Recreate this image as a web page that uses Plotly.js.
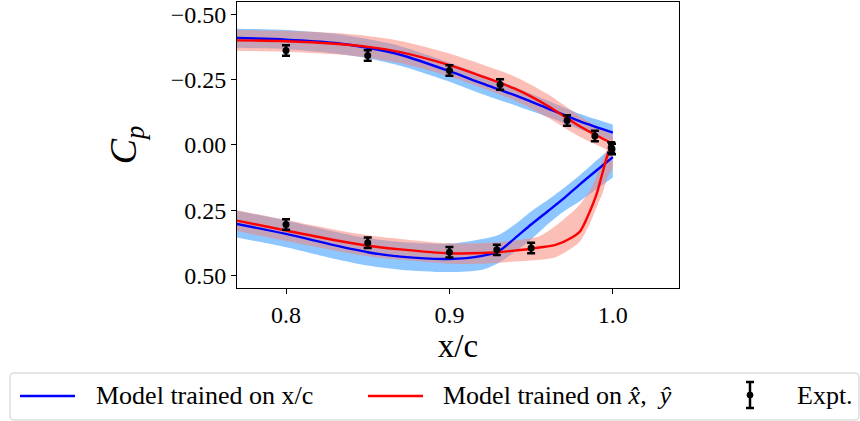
<!DOCTYPE html>
<html>
<head>
<meta charset="utf-8">
<script src="https://cdn.plot.ly/plotly-3.0.1.min.js"></script>
<style>html,body{margin:0;padding:0;background:#fff;}#chart{width:860px;height:421px;}</style>
</head>
<body>
<div id="chart"></div>
<script>
// ---- data ----
// upper surface, model trained on x/c
var bluUpX   = [0.77, 0.80, 0.83, 0.85, 0.87, 0.90, 0.92, 0.94, 0.96, 0.98, 1.00];
var bluUpY   = [-0.409, -0.403, -0.390, -0.372, -0.345, -0.282, -0.235, -0.190, -0.140, -0.090, -0.047];
var bluUpTop = [-0.445, -0.440, -0.425, -0.405, -0.378, -0.315, -0.268, -0.222, -0.170, -0.118, -0.078];
var bluUpBot = [-0.372, -0.366, -0.350, -0.332, -0.303, -0.242, -0.195, -0.152, -0.108, -0.060, -0.015];
// lower surface, model trained on x/c
var bluLoX   = [0.77, 0.80, 0.83, 0.85, 0.87, 0.90, 0.92, 0.93, 0.94, 0.95, 0.96, 0.97, 0.98, 0.99, 1.00];
var bluLoY   = [0.303, 0.341, 0.385, 0.411, 0.428, 0.437, 0.425, 0.408, 0.358, 0.305, 0.255, 0.205, 0.150, 0.098, 0.047];
var bluLoTop = [0.252, 0.290, 0.333, 0.358, 0.372, 0.378, 0.360, 0.345, 0.305, 0.255, 0.212, 0.165, 0.115, 0.060, 0.005];
var bluLoBot = [0.355, 0.392, 0.437, 0.462, 0.478, 0.487, 0.478, 0.452, 0.410, 0.362, 0.305, 0.255, 0.215, 0.170, 0.125];
// upper surface, model trained on x-hat, y-hat
var redUpX   = [0.77, 0.80, 0.83, 0.85, 0.87, 0.90, 0.92, 0.94, 0.96, 0.98, 0.99, 1.00];
var redUpY   = [-0.400, -0.397, -0.387, -0.375, -0.355, -0.305, -0.262, -0.215, -0.150, -0.070, -0.036, -0.005];
var redUpTop = [-0.440, -0.437, -0.428, -0.417, -0.398, -0.350, -0.308, -0.262, -0.195, -0.110, -0.072, -0.038];
var redUpBot = [-0.360, -0.357, -0.347, -0.334, -0.313, -0.262, -0.218, -0.170, -0.105, -0.030, 0.000, 0.030];
// lower surface, model trained on x-hat, y-hat
var redLoX   = [0.77, 0.80, 0.83, 0.85, 0.87, 0.90, 0.92, 0.94, 0.955, 0.965, 0.975, 0.980, 0.986, 0.990, 0.994, 0.997, 1.000];
var redLoY   = [0.290, 0.328, 0.365, 0.386, 0.400, 0.415, 0.414, 0.405, 0.393, 0.383, 0.355, 0.331, 0.254, 0.190, 0.100, 0.035, -0.005];
var redLoTop = [0.250, 0.288, 0.325, 0.346, 0.360, 0.377, 0.376, 0.366, 0.350, 0.310, 0.258, 0.227, 0.175, 0.120, 0.055, 0.010, -0.025];
var redLoBot = [0.330, 0.368, 0.405, 0.426, 0.440, 0.455, 0.455, 0.447, 0.440, 0.430, 0.395, 0.369, 0.300, 0.240, 0.180, 0.120, 0.090];
// experimental data
var expX   = [0.80, 0.85, 0.90, 0.931, 0.972, 0.989, 0.999, 0.80, 0.85, 0.90, 0.929, 0.950, 0.9995];
var expY   = [-0.361, -0.342, -0.285, -0.231, -0.093, -0.034, 0.010, 0.305, 0.375, 0.411, 0.402, 0.395, 0.016];
var expErr = [0.020, 0.020, 0.020, 0.020, 0.020, 0.020, 0.020, 0.020, 0.020, 0.020, 0.020, 0.020, 0.020];
// ticks and labels
var xTicks = [0.8, 0.9, 1.0];
var yTicks = [-0.5, -0.25, 0, 0.25, 0.5];
var legendNames = ["Model trained on x/c", "Model trained on <i>x\u0302</i>,  <i>\u0177</i>", "Expt."];

// ---- styling ----
var BLUE = "#0000ff", RED = "#ff0000";
var BLUE_FILL = "rgba(30,144,255,0.5)", RED_FILL = "rgba(250,128,114,0.5)";
var FONT = "'Liberation Serif', 'Times New Roman', serif";

function band(x, top, bot, color) {
  return [
    {x: x, y: bot, type: "scatter", mode: "lines",
     line: {width: 0, color: "rgba(0,0,0,0)", shape: "spline", smoothing: 0.8}, hoverinfo: "skip", showlegend: false},
    {x: x, y: top, type: "scatter", mode: "lines", fill: "tonexty", fillcolor: color,
     line: {width: 0, color: "rgba(0,0,0,0)", shape: "spline", smoothing: 0.8}, hoverinfo: "skip", showlegend: false}
  ];
}
function curve(x, y, color) {
  return {x: x, y: y, type: "scatter", mode: "lines",
    line: {color: color, width: 2.4, shape: "spline", smoothing: 0.8}, showlegend: false};
}

var traces = [].concat(
  band(bluUpX, bluUpTop, bluUpBot, BLUE_FILL),
  band(bluLoX, bluLoTop, bluLoBot, BLUE_FILL),
  band(redUpX, redUpTop, redUpBot, RED_FILL),
  band(redLoX, redLoTop, redLoBot, RED_FILL),
  [
    curve(bluUpX, bluUpY, BLUE),
    curve(bluLoX, bluLoY, BLUE),
    curve(redUpX, redUpY, RED),
    curve(redLoX, redLoY, RED),
    {x: expX, y: expY, type: "scatter", mode: "markers", name: "Expt.",
     marker: {color: "#000", size: 7},
     error_y: {type: "data", array: expErr, visible: true, color: "#000", thickness: 2.5, width: 4},
     showlegend: false}
  ]
);

// ---- layout geometry (pixels -> paper) ----
var L = 237, R = 679, T = 2, B = 288, W = 860, H = 421;
function px(x) { return (x - L) / (R - L); }
function py(y) { return (B - y) / (B - T); }

// manual legend (matplotlib style, below the axes)
var bx0 = 10, bx1 = 859, by0 = 373, by1 = 420, rr = 4;
function rp(x, y) { return px(x).toFixed(5) + "," + py(y).toFixed(5); }
var boxPath = "M" + rp(bx0 + rr, by0) + " L" + rp(bx1 - rr, by0) + " Q" + rp(bx1, by0) + " " + rp(bx1, by0 + rr) +
  " L" + rp(bx1, by1 - rr) + " Q" + rp(bx1, by1) + " " + rp(bx1 - rr, by1) +
  " L" + rp(bx0 + rr, by1) + " Q" + rp(bx0, by1) + " " + rp(bx0, by1 - rr) +
  " L" + rp(bx0, by0 + rr) + " Q" + rp(bx0, by0) + " " + rp(bx0 + rr, by0) + " Z";
var ly = 396;
var shapes = [
  {type: "path", xref: "paper", yref: "paper", path: boxPath, line: {color: "#cccccc", width: 1}, fillcolor: "rgba(255,255,255,0.8)"},
  {type: "line", xref: "paper", yref: "paper", x0: px(20), x1: px(75), y0: py(ly), y1: py(ly), line: {color: BLUE, width: 2.4}},
  {type: "line", xref: "paper", yref: "paper", x0: px(368), x1: px(423), y0: py(ly), y1: py(ly), line: {color: RED, width: 2.4}},
  {type: "line", xref: "paper", yref: "paper", x0: px(750), x1: px(750), y0: py(382), y1: py(408), line: {color: "#000", width: 2.5}},
  {type: "line", xref: "paper", yref: "paper", x0: px(746), x1: px(754), y0: py(382), y1: py(382), line: {color: "#000", width: 2.5}},
  {type: "line", xref: "paper", yref: "paper", x0: px(746), x1: px(754), y0: py(408), y1: py(408), line: {color: "#000", width: 2.5}},
  {type: "circle", xref: "paper", yref: "paper", x0: px(747), x1: px(753), y0: py(392), y1: py(398), fillcolor: "#000", line: {color: "#000", width: 1}}
];
var annotations = [
  {xref: "paper", yref: "paper", x: px(94), y: py(ly), xanchor: "left", yanchor: "middle", showarrow: false, text: legendNames[0], font: {family: FONT, size: 26, color: "#000"}},
  {xref: "paper", yref: "paper", x: px(441), y: py(ly), xanchor: "left", yanchor: "middle", showarrow: false, text: legendNames[1], font: {family: FONT, size: 26, color: "#000"}},
  {xref: "paper", yref: "paper", x: px(795), y: py(ly), xanchor: "left", yanchor: "middle", showarrow: false, text: legendNames[2], font: {family: FONT, size: 26, color: "#000"}}
];

var layout = {
  width: W, height: H,
  margin: {l: L, r: W - R, t: T, b: H - B, pad: 0},
  paper_bgcolor: "#fff", plot_bgcolor: "#fff",
  showlegend: false,
  font: {family: FONT, size: 22, color: "#000"},
  xaxis: {
    range: [0.77, 1.0405], tickvals: xTicks, tickformat: ".1f",
    ticks: "outside", ticklen: 5, tickwidth: 1, tickcolor: "#000",
    showline: true, linecolor: "#000", linewidth: 1, mirror: true,
    showgrid: false, zeroline: false,
    tickfont: {family: FONT, size: 24, color: "#000"},
    title: {text: "x/c", font: {family: FONT, size: 33, color: "#000"}, standoff: 0}
  },
  yaxis: {
    range: [0.548, -0.547], tickvals: yTicks, tickformat: ".2f",
    ticks: "outside", ticklen: 5, tickwidth: 1, tickcolor: "#000",
    showline: true, linecolor: "#000", linewidth: 1, mirror: true,
    showgrid: false, zeroline: false,
    tickfont: {family: FONT, size: 24, color: "#000"},
    title: {text: "<i>C</i><sub><i>p</i></sub>", font: {family: FONT, size: 38, color: "#000"}, standoff: 22}
  },
  shapes: shapes,
  annotations: annotations
};

Plotly.newPlot("chart", traces, layout, {displayModeBar: false, staticPlot: true});
</script>
</body>
</html>
